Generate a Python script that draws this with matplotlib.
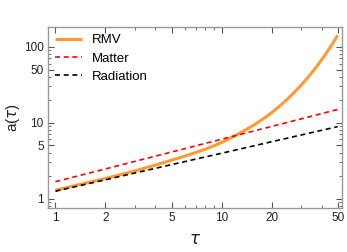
import matplotlib
matplotlib.use("Agg")
import matplotlib.pyplot as plt
from matplotlib.ticker import FixedLocator, NullFormatter, LogLocator

plt.rcParams['font.family'] = ['Liberation Sans', 'DejaVu Sans']

# Data
rmv_tau = [1, 2, 3, 4, 5, 6, 7, 8, 9, 10, 11, 12, 14, 16, 18, 20, 23, 26, 30, 34, 38, 42, 46, 50]
rmv_a = [1.29, 1.84, 2.31, 2.76, 3.20, 3.62, 4.05, 4.48, 4.95, 5.48, 6.08, 6.70, 8.05,
         9.6, 11.4, 13.5, 17.4, 22.3, 30.8, 42.2, 57.5, 77.9, 105.1, 141.1]

matter_tau = [1, 5, 10, 20, 50]
matter_a = [1.67, 4.1, 6.05, 8.9, 14.9]

rad_tau = [1, 5, 10, 20, 50]
rad_a = [1.25, 2.80, 3.95, 5.6, 8.85]

xticks = [1, 2, 5, 10, 20, 50]
yticks = [1, 5, 10, 50, 100]

fig = plt.figure(figsize=(3.47, 2.52), dpi=100)
ax = fig.add_axes([0.138, 0.175, 0.848, 0.718])

ax.plot(rmv_tau, rmv_a, color='#FF9A33', lw=2.2, label='RMV', solid_capstyle='butt')
ax.plot(matter_tau, matter_a, color='#FF0000', lw=1.2, ls=(0, (3, 2.2)), label='Matter')
ax.plot(rad_tau, rad_a, color='black', lw=1.2, ls=(0, (3, 2.2)), label='Radiation')

ax.set_xscale('log')
ax.set_yscale('log')
ax.set_xlim(0.901, 53.2)
ax.set_ylim(0.754, 181.7)

ax.xaxis.set_major_locator(FixedLocator(xticks))
ax.set_xticklabels([str(t) for t in xticks])
ax.yaxis.set_major_locator(FixedLocator(yticks))
ax.set_yticklabels([str(t) for t in yticks])
ax.xaxis.set_minor_locator(LogLocator(base=10, subs=range(1, 10)))
ax.yaxis.set_minor_locator(LogLocator(base=10, subs=range(1, 10)))
ax.xaxis.set_minor_formatter(NullFormatter())
ax.yaxis.set_minor_formatter(NullFormatter())

frame_col = '#999999'
for s in ax.spines.values():
    s.set_color(frame_col)
    s.set_linewidth(1.0)
ax.tick_params(which='both', direction='in', top=True, right=True,
               color='#555555', labelsize=8.5, labelcolor='#222222')
ax.tick_params(which='major', length=4, width=0.8, pad=3)
ax.tick_params(which='minor', length=2, width=0.6)

ax.set_xlabel(r'$\tau$', fontsize=12, labelpad=6, color='#222222')
ax.set_ylabel(r'a($\tau$)', fontsize=11, labelpad=1.5, color='#222222')

leg = ax.legend(loc='upper left', frameon=False, fontsize=9.5, handlelength=2.0,
                handletextpad=0.8, borderaxespad=0.15, labelspacing=0.45,
                bbox_to_anchor=(0.0, 1.0))

fig.savefig('out.png', dpi=100)
